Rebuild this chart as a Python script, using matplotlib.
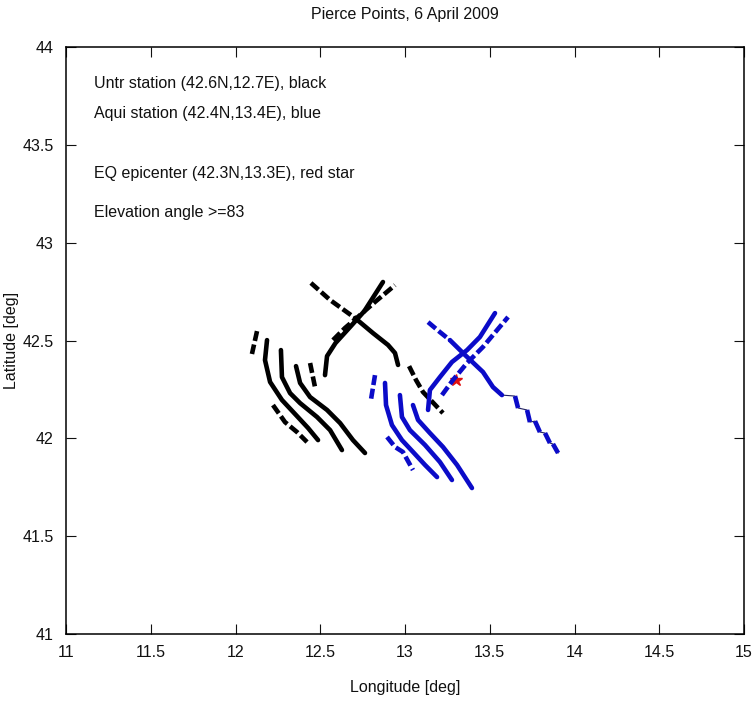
import matplotlib
matplotlib.use("Agg")
import matplotlib.pyplot as plt
from matplotlib import font_manager

# ---------------- data (lon, lat) ----------------
# black: Untr station pierce-point tracks
bk1_lon = [12.445, 12.558, 12.705, 12.811, 12.900, 12.941, 12.959]
bk1_lat = [42.794, 42.707, 42.615, 42.538, 42.477, 42.436, 42.375]
bk2_lon = [12.528, 12.540, 12.590, 12.676, 12.760, 12.870]
bk2_lat = [42.323, 42.420, 42.487, 42.569, 42.650, 42.799]
bk3_lon = [12.575, 12.646, 12.735, 12.823, 12.941]
bk3_lat = [42.502, 42.564, 42.630, 42.697, 42.783]
bk5_lon = [12.127, 12.097]
bk5_lat = [42.548, 42.431]
bk6_lon = [12.186, 12.174, 12.204, 12.274, 12.357, 12.428, 12.487]
bk6_lat = [42.502, 42.400, 42.288, 42.196, 42.119, 42.053, 41.991]
bk7_lon = [12.268, 12.274, 12.322, 12.381, 12.481, 12.558, 12.628]
bk7_lat = [42.451, 42.313, 42.231, 42.180, 42.109, 42.042, 41.940]
bk8_lon = [12.357, 12.381, 12.440, 12.540, 12.617, 12.693, 12.764]
bk8_lat = [42.369, 42.283, 42.211, 42.145, 42.078, 41.991, 41.925]
bk9_lon = [12.440, 12.469]
bk9_lat = [42.385, 42.262]
bk10_lon = [12.221, 12.292, 12.363, 12.422]
bk10_lat = [42.170, 42.083, 42.032, 41.981]
bk11_lon = [13.024, 13.065, 13.106, 13.224]
bk11_lat = [42.369, 42.298, 42.237, 42.129]

# blue: Aqui station pierce-point tracks
bl1_lon = [13.136, 13.206, 13.265, 13.354, 13.460, 13.519, 13.572]
bl1_lat = [42.594, 42.543, 42.502, 42.426, 42.339, 42.262, 42.221]
bl1t_lon = [13.572, 13.649, 13.667, 13.720, 13.737, 13.767, 13.796, 13.826, 13.855, 13.873, 13.903]
bl1t_lat = [42.221, 42.216, 42.155, 42.145, 42.083, 42.088, 42.032, 42.027, 41.976, 41.971, 41.925]
bl2_lon = [13.136, 13.147, 13.206, 13.277, 13.366, 13.442, 13.531]
bl2_lat = [42.145, 42.247, 42.313, 42.390, 42.451, 42.518, 42.640]
bl3_lon = [13.218, 13.283, 13.366, 13.460, 13.543, 13.608]
bl3_lat = [42.221, 42.298, 42.385, 42.467, 42.553, 42.620]
ba1_lon = [12.823, 12.799]
ba1_lat = [42.323, 42.196]
ba2_lon = [12.882, 12.888, 12.923, 12.982, 13.053, 13.118, 13.189]
ba2_lat = [42.283, 42.170, 42.068, 41.991, 41.925, 41.864, 41.802]
ba3_lon = [12.970, 12.982, 13.029, 13.118, 13.206, 13.277]
ba3_lat = [42.221, 42.109, 42.042, 41.966, 41.879, 41.787]
ba4_lon = [13.047, 13.077, 13.147, 13.224, 13.307, 13.395]
ba4_lat = [42.170, 42.094, 42.027, 41.956, 41.864, 41.746]
ba5_lon = [12.894, 12.941, 12.988, 13.047]
ba5_lat = [42.007, 41.956, 41.930, 41.838]

epi_lon = [13.3]
epi_lat = [42.3]

x_ticks = [11, 11.5, 12, 12.5, 13, 13.5, 14, 14.5, 15]
x_labels = ["11", "11.5", "12", "12.5", "13", "13.5", "14", "14.5", "15"]
y_ticks = [41, 41.5, 42, 42.5, 43, 43.5, 44]
y_labels = ["41", "41.5", "42", "42.5", "43", "43.5", "44"]

notes = ["Untr station (42.6N,12.7E), black",
         "Aqui station (42.4N,13.4E), blue",
         "EQ epicenter (42.3N,13.3E), red star",
         "Elevation angle >=83"]
note_lat = [43.815, 43.66, 43.356, 43.156]

# ---------------- fonts ----------------
names = {f.name for f in font_manager.fontManager.ttflist}
if "Liberation Sans Narrow" in names:
    fam = ["Liberation Sans Narrow", "DejaVu Sans"]
    fs = 14
else:
    fam = ["Liberation Sans", "DejaVu Sans"]
    fs = 11.5
plt.rcParams["font.family"] = fam

BLACK = "#000000"
BLUE = "#0b0bc8"
LW = 3.3

fig = plt.figure(figsize=(7.54, 7.04), dpi=100)
ax = fig.add_axes([66 / 754, 1 - 634 / 704, (744 - 66) / 754, (634 - 47) / 704])


def track(lon, lat, color, dashed=False):
    ln, = ax.plot(lon, lat, color=color, lw=LW, solid_capstyle="round",
                  dash_capstyle="butt", zorder=3)
    if dashed:
        ln.set_dashes((2.2, 0.8))
    return ln


# black
track(bk1_lon[:3], bk1_lat[:3], BLACK, dashed=True)
track(bk1_lon[2:], bk1_lat[2:], BLACK)
track(bk2_lon, bk2_lat, BLACK)
track(bk3_lon, bk3_lat, BLACK, dashed=True)
track(bk5_lon, bk5_lat, BLACK, dashed=True)
track(bk6_lon, bk6_lat, BLACK)
track(bk7_lon, bk7_lat, BLACK)
track(bk8_lon, bk8_lat, BLACK)
track(bk9_lon, bk9_lat, BLACK, dashed=True)
track(bk10_lon, bk10_lat, BLACK, dashed=True)
track(bk11_lon, bk11_lat, BLACK, dashed=True)

# red epicenter (partly hidden under blue)
ax.plot(epi_lon, epi_lat, marker="*", color="#e01010", markersize=9, ls="none", zorder=2)

# blue
track(bl1_lon[:3], bl1_lat[:3], BLUE, dashed=True)
track(bl1_lon[2:], bl1_lat[2:], BLUE)
ax.plot(bl1t_lon, bl1t_lat, color="#202060", lw=0.8, zorder=2)
for i in range(1, len(bl1t_lon) - 1, 2):
    ax.plot(bl1t_lon[i:i + 2], bl1t_lat[i:i + 2], color=BLUE, lw=LW,
            solid_capstyle="butt", zorder=3)
track(bl2_lon, bl2_lat, BLUE)
track(bl3_lon, bl3_lat, BLUE, dashed=True)
track(ba1_lon, ba1_lat, BLUE, dashed=True)
track(ba2_lon, ba2_lat, BLUE)
track(ba3_lon, ba3_lat, BLUE)
track(ba4_lon, ba4_lat, BLUE)
track(ba5_lon, ba5_lat, BLUE, dashed=True)

for t, la in zip(notes, note_lat):
    ax.text(11.165, la, t, fontsize=fs, va="center", ha="left", color="#111111")

ax.set_xlim(11, 15)
ax.set_ylim(41, 44)
ax.set_xticks(x_ticks)
ax.set_xticklabels(x_labels)
ax.set_yticks(y_ticks)
ax.set_yticklabels(y_labels)
ax.tick_params(direction="in", length=7, width=0.8, top=True, right=True,
               labelsize=fs, colors="#111111")
ax.tick_params(axis="x", pad=8)
ax.tick_params(axis="y", pad=9)
for s in ax.spines.values():
    s.set_linewidth(1.1)
ax.set_title("Pierce Points, 6 April 2009", fontsize=fs, pad=20, color="#111111")
ax.set_xlabel("Longitude [deg]", fontsize=fs, labelpad=14, color="#111111")
ax.set_ylabel("Latitude [deg]", fontsize=fs, labelpad=2, color="#111111")

fig.savefig("out.png", dpi=100)
